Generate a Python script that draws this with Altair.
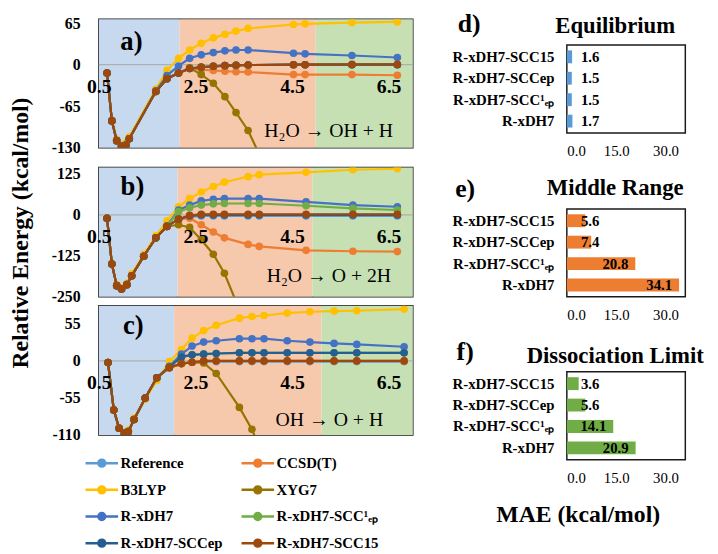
import altair as alt
import pandas as pd

SERIF = "Liberation Serif"

SERIES = ["Reference", "CCSD(T)", "B3LYP", "XYG7", "R-xDH7",
          "R-xDH7-SCC¹ₑₚ", "R-xDH7-SCCep", "R-xDH7-SCC15"]
COLORS = ["#5B9BD5", "#ED7D31", "#FFC000", "#997300", "#4472C4",
          "#70AD47", "#255E91", "#9E480E"]
REGION_COLORS = ["#C6D9EF", "#F6C8AC", "#C6E0B4"]
XTICKS = [0.5, 2.5, 4.5, 6.5]

# ---------------- panel a : H2O -> OH + H ----------------
xa = [0.67, 0.77, 0.87, 0.97, 1.06, 1.13, 1.68, 1.91, 2.15, 2.38, 2.62, 2.87, 3.11, 3.34, 3.59, 4.53, 4.77, 5.74, 6.68]
a_ref = [-13, -88, -119, -128, -126, -116, -42, -22, -13, -6, -4, -2.5, -1.5, -1, -0.5, 0, 0, 0, 0]
a_ccsd = [-13, -88, -119, -128, -126, -116, -42, -22, -13, -6, -7.7, -9, -10.3, -11, -11.5, -15.5, -15.5, -15.5, -16.5]
a_b3lyp = [-13, -87, -117, -126, -122, -113, -38, -9, 10, 23, 33.5, 42, 47.5, 52.6, 56.8, 63, 64, 66, 67]
a_xyg7 = [-13, -88, -119, -128, -126, -116, -42, -22, -13, -5, -15.5, -29, -50, -75, -103, -255]
a_xdh7 = [-13, -88, -119, -128, -126, -116, -41, -17, -2, 10, 15.5, 19, 21.7, 23, 23, 18, 17, 14.4, 11.3]
a_scc1ep = [-13, -88, -119, -128, -126, -116, -42, -22, -13, -6, -4, -2.5, -1.5, -1, -0.5, 0, 0, 0, 0]
a_sccep = [-13, -88, -119, -128, -126, -116, -42, -22, -13, -6, -4, -2.5, -1.5, -1, -0.5, 0, 0, 0, 0]
a_scc15 = [-13, -88, -119, -128, -126, -116, -42, -22, -13, -6, -3.6, -2.5, -1.5, -1, -0.5, 0, 0, 0.5, 0.5]
a_regions = [0.5, 2.17, 4.99, 7.0]

# ---------------- panel b : H2O -> O + 2H ----------------
xb = [0.67, 0.77, 0.87, 0.97, 1.08, 1.18, 1.43, 1.68, 1.91, 2.15, 2.38, 2.62, 2.87, 3.1, 3.59, 3.82, 4.79, 5.76, 6.68]
b_ref = [-10, -150, -216, -226, -213, -186, -126, -70, -35, -13, -5, -3, -3, -3, -3, -3, -3, -3, -3]
b_ccsd = [-10, -150, -216, -226, -213, -186, -126, -70, -35, -13, -10, -30, -52, -70, -90, -96, -108, -111, -112]
b_b3lyp = [-10, -148, -213, -222, -209, -180, -120, -64, -18, 25, 50, 70, 87, 100, 117, 123, 130, 138, 141]
b_xyg7 = [-10, -150, -216, -226, -213, -186, -126, -70, -35, -30, -38, -76, -120, -178, -355]
b_xdh7 = [-10, -150, -216, -226, -213, -186, -126, -70, -33, 15, 30, 43, 48, 50, 50, 50, 40, 30, 25]
b_scc1ep = [-10, -150, -216, -226, -213, -186, -126, -70, -34, 10, 22, 30, 34, 35, 35, 35, 28, 20, 15]
b_sccep = [-10, -150, -216, -226, -213, -186, -126, -70, -35, -13, -3, 0, 0, 0, 0, 0, 0, 0, 0]
b_scc15 = [-10, -150, -216, -226, -213, -186, -126, -70, -35, -13, -1, 2, 2, 2, 2, 2, 2, 2, 2]
b_regions = [0.5, 2.13, 4.92, 7.0]

# ---------------- panel c : OH -> O + H ----------------
xc = [0.69, 0.81, 0.92, 1.03, 1.11, 1.23, 1.46, 1.70, 1.96, 2.21, 2.43, 2.67, 2.93, 3.41, 3.67, 3.92, 4.40, 4.87, 5.37, 5.84, 6.82]
c_ref = [-2.4, -73, -100, -107.5, -105, -87, -55, -25, -10, -4, -2, -1, -1, -1, -1, -1, -1, -1, -1, -1, -1]
c_ccsd = [-2.4, -73, -100, -107.5, -105, -87, -55, -25, -10, -4, -2, 0, 0, 0, 0, 0, 0, 0, 0, 0, 0]
c_b3lyp = [-2.4, -72, -99, -106, -103, -85, -57, -29, -1, 17, 34, 45, 53, 63.5, 66, 67.5, 71, 73, 74, 74.5, 77]
c_xyg7 = [-2.4, -73, -100, -107.5, -105, -87, -55, -25, -10, -4, -2, -3, -18.6, -69, -101.6, -145]
c_xdh7 = [-2.4, -73, -100, -107.5, -105, -87, -55, -25, -8, 10, 22, 28, 30, 33, 33, 33, 30, 28, 26, 24.5, 21]
c_scc1ep = [-2.4, -73, -100, -107.5, -105, -87, -55, -25, -9, 6, 9, 10, 11, 12, 12, 12, 12, 12, 12, 12, 12]
c_sccep = [-2.4, -73, -100, -107.5, -105, -87, -55, -25, -9, 6, 9, 10, 11, 12, 12, 12, 12, 12, 12, 12, 12]
c_scc15 = [-2.4, -73, -100, -107.5, -105, -87, -55, -25, -10, -4, -2, 0, 0, 0, 0, 0, 0, 0, 0, 0, 0]
c_regions = [0.5, 2.06, 5.11, 7.0]

# ---------------- MAE bars ----------------
BAR_CATS = ["R-xDH7-SCC15", "R-xDH7-SCCep", "R-xDH7-SCC¹ₑₚ", "R-xDH7"]
mae_eq = [1.6, 1.5, 1.5, 1.7]
mae_mid = [5.6, 7.4, 20.8, 34.1]
mae_dis = [3.6, 5.6, 14.1, 20.9]
BAR_TICKS = [0, 15, 30]

PATH = "M-3.3,0H-0.7M0.7,0H3.3M-0.7,0A0.7,0.7,0,1,1,0.7,0A0.7,0.7,0,1,1,-0.7,0"

LEGEND = alt.Legend(
    title=None, orient="none", legendX=-4.5, legendY=442, columns=2,
    direction="horizontal",
    columnPadding=14, rowPadding=10, symbolType=PATH, symbolSize=100,
    symbolStrokeWidth=2.5, labelFont=SERIF, labelFontSize=15,
    labelFontWeight="bold", labelColor="black", labelOffset=11.5,
    labelLimit=0, padding=0, symbolOpacity=1,
)
COLOR = alt.Color("s:N", scale=alt.Scale(domain=SERIES, range=COLORS), legend=LEGEND)

W = 318


def text_layer(txt, x, y, size, weight="bold", align="center"):
    return alt.Chart(pd.DataFrame({"t": [txt]})).mark_text(
        font=SERIF, fontSize=size, fontWeight=weight, color="black",
        align=align, baseline="middle").encode(
        text="t:N", x=alt.value(x), y=alt.value(y))


def line_panel(xs, series_vals, ydom, yticks, H, regions, tag, tag_xy,
               reaction, react_xy):
    xscale = alt.Scale(domain=[0.5, 7.0], nice=False, zero=False)
    yscale = alt.Scale(domain=ydom, nice=False, zero=False)
    zero_px = H * ydom[1] / (ydom[1] - ydom[0])
    xaxis = alt.Axis(values=XTICKS, format=".1f", labelFont=SERIF, labelFontSize=20,
                     labelFontWeight="bold", labelColor="black", ticks=False,
                     domain=False, grid=False, labelPadding=12, labelFlush=False,
                     offset=-(H - zero_px), zindex=1)
    yaxis = alt.Axis(values=yticks, labelExpr="'' + datum.value", labelFont=SERIF,
                     labelFontSize=16, labelFontWeight="bold", labelColor="black",
                     ticks=False, domain=False, grid=False, labelPadding=19)
    X = alt.X("x:Q", scale=xscale, axis=xaxis, title=None)
    Y = alt.Y("y:Q", scale=yscale, axis=yaxis, title=None)

    bg_df = pd.DataFrame({"x": regions[:-1], "x2": regions[1:], "c": REGION_COLORS})
    bg = alt.Chart(bg_df).mark_rect().encode(
        x=X, x2=alt.X2("x2:Q"), y=alt.value(0), y2=alt.value(H),
        fill=alt.Fill("c:N", scale=None))
    zero = alt.Chart(pd.DataFrame({"y": [0]})).mark_rule(
        color="#A6A6A6", strokeWidth=1).encode(y=Y)

    layers = [bg, zero]
    for s, ys in zip(SERIES, series_vals):
        d = pd.DataFrame({"x": xs[:len(ys)], "y": ys, "s": s})
        layers.append(alt.Chart(d).mark_line(strokeWidth=2.2, clip=True).encode(
            x=X, y=Y, color=COLOR))
        layers.append(alt.Chart(d).mark_point(filled=True, size=60, opacity=1,
                                              clip=True).encode(x=X, y=Y, color=COLOR))
    layers.append(text_layer(tag, tag_xy[0], tag_xy[1], 27))
    layers.append(text_layer(reaction, react_xy[0], react_xy[1], 20, "normal", "right"))
    return alt.layer(*layers).properties(width=W, height=H)


pa = line_panel(xa, [a_ref, a_ccsd, a_b3lyp, a_xyg7, a_xdh7, a_scc1ep, a_sccep, a_scc15],
                [-130, 71], [65, 0, -65, -130], 130, a_regions, "a)", (33, 23),
                "H₂O → OH + H", (298, 113))
pb = line_panel(xb, [b_ref, b_ccsd, b_b3lyp, b_xyg7, b_xdh7, b_scc1ep, b_sccep, b_scc15],
                [-250, 145], [125, 0, -125, -250], 131, b_regions, "b)", (34, 20),
                "H₂O → O + 2H", (296, 110))
pc = line_panel(xc, [c_ref, c_ccsd, c_b3lyp, c_xyg7, c_xdh7, c_scc1ep, c_sccep, c_scc15],
                [-110, 82], [55, 0, -55, -110], 131, c_regions, "c)", (35, 21),
                "OH → O + H", (288, 116))

BW, BH = 120, 89


def bar_panel(vals, color, title, title_y, tag, tag_xy, x_title=None, with_head=True):
    df = pd.DataFrame({"m": BAR_CATS, "v": vals})
    xscale = alt.Scale(domain=[0, 36], nice=False, zero=True)
    xkw = dict(values=BAR_TICKS, format=".1f", labelFont=SERIF, labelFontSize=15,
               labelColor="black", ticks=False, domain=False, grid=False,
               labelPadding=11)
    if x_title:
        xkw.update(titleFont=SERIF, titleFontSize=24, titleFontWeight="bold",
                   titleColor="black", titleX=11, titleY=56, titleAlign="center",
                   titleBaseline="middle")
    xaxis = alt.Axis(**xkw)
    ttl = x_title if x_title else None
    X = alt.X("v:Q", scale=xscale, axis=xaxis, title=ttl)
    Y = alt.Y("m:N", sort=BAR_CATS,
              scale=alt.Scale(paddingInner=0.4, paddingOuter=0.25),
              axis=alt.Axis(labelFont=SERIF, labelFontSize=15, labelFontWeight="bold",
                            labelColor="black", ticks=False, domain=False, grid=False,
                            labelPadding=13, labelLimit=0),
              title=None)
    bars = alt.Chart(df).mark_bar(color=color).encode(x=X, y=Y)
    labels = alt.Chart(df).transform_calculate(lx="max(datum.v, 12)").mark_text(
        font=SERIF, fontSize=15, fontWeight="bold", color="black",
        align="right", baseline="middle", dx=-7).encode(
        x=alt.X("lx:Q", scale=xscale, axis=xaxis, title=ttl), y=Y,
        text=alt.Text("v:Q", format=".1f"))
    layers = [bars, labels]
    if with_head:
        layers += [text_layer(tag, tag_xy[0], tag_xy[1], 26),
                   text_layer(title, 49, title_y, 23)]
    return alt.layer(*layers).properties(width=BW, height=BH)


# header row above panel d (tag + title live here so d itself starts lower)
head_d = alt.layer(text_layer("d)", -99, 5, 26),
                   text_layer("Equilibrium", 49, 7, 23)).properties(
    width=BW, height=11, view=alt.ViewBackground(stroke="transparent"))

pd_ = bar_panel(mae_eq, "#5B9BD5", "Equilibrium", -18, "d)", (-99, -19), with_head=False)
pe = bar_panel(mae_mid, "#ED7D31", "Middle Range", -21, "e)", (-103, -20.5))
pf = bar_panel(mae_dis, "#70AD47", "Dissociation Limit", -16, "f)", (-103, -19.5),
               x_title="MAE (kcal/mol)")

left = alt.vconcat(
    pa, alt.vconcat(pb, pc, spacing=-1), spacing=8,
    title=alt.Title("Relative Energy (kcal/mol)", orient="left", anchor="middle",
                    font=SERIF, fontSize=24, fontWeight="bold", color="black",
                    offset=18, dx=-4))
right = alt.vconcat(head_d, alt.vconcat(pd_, pe, pf, spacing=15), spacing=5)

chart = alt.hconcat(left, right, spacing=36).properties(
    padding={"left": 0, "top": -1, "right": 5, "bottom": 0}
).configure_view(stroke="#1a1a1a", strokeWidth=1.5)

chart.save("out.html", embed_options={"renderer": "svg", "actions": False})
